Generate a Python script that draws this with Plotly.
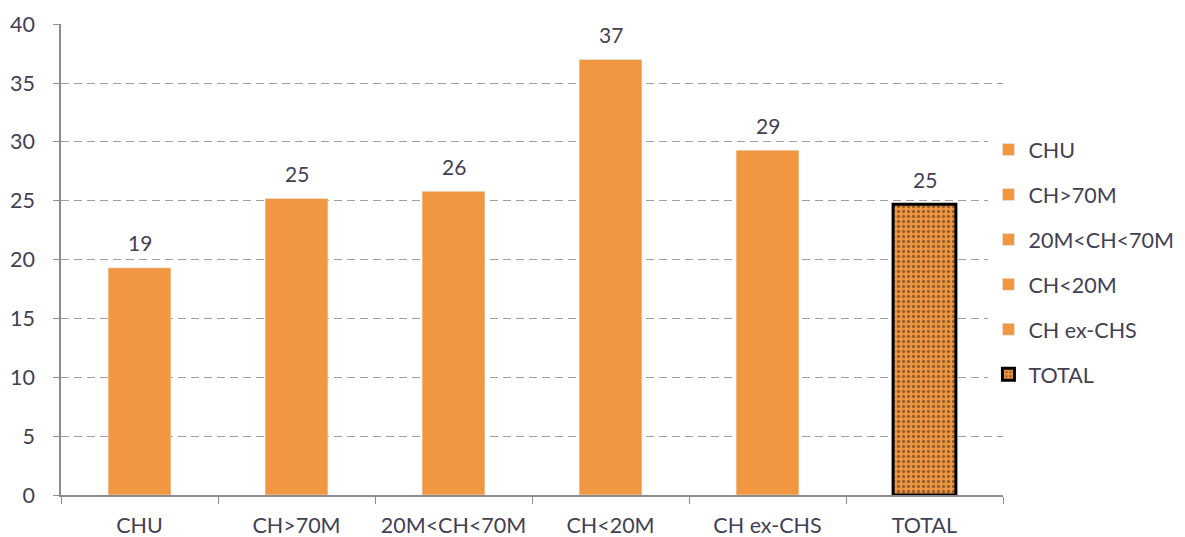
import plotly.graph_objects as go

categories = ["CHU", "CH>70M", "20M<CH<70M", "CH<20M", "CH ex-CHS", "TOTAL"]
values = [19.3, 25.2, 25.8, 37.0, 29.3, 24.7]
labels = ["19", "25", "26", "37", "29", "25"]

ORANGE = "#F19741"
TEXT = "#433F55"
FONT = "Lato"

fig = go.Figure()
for i, (c, v, l) in enumerate(zip(categories, values, labels)):
    is_total = c == "TOTAL"
    marker = dict(color=ORANGE)
    if is_total:
        marker = dict(
            color=ORANGE,
            line=dict(color="black", width=3),
            pattern=dict(shape=".", fgcolor="#3a2a1a", bgcolor=ORANGE, size=5, solidity=0.35, fillmode="overlay"),
        )
    fig.add_trace(go.Bar(
        x=[c], y=[v], name=c,
        marker=marker, width=0.4, legendgroup=c,
    ))
    fig.add_annotation(x=c, y=v, text=l, showarrow=False, yanchor="middle", yshift=25,
                       font=dict(size=21, color=TEXT, family=FONT))

fig.update_layout(
    width=1177, height=529,
    paper_bgcolor="white", plot_bgcolor="white",
    barmode="overlay",
    margin=dict(l=53, r=182, t=16, b=42, autoexpand=False),
    font=dict(family=FONT, color=TEXT, size=21.5),
    legend=dict(xref="container", x=0.833, y=0.777, yanchor="top", xanchor="left",
                font=dict(size=21.5, color=TEXT, family=FONT),
                tracegroupgap=14, itemwidth=30),
    showlegend=True,
)
fig.update_xaxes(
    automargin=False, tickangle=0,
    showline=True, linecolor="#8c8c8c", linewidth=1.5,
    ticks="outside", tickson="boundaries", ticklen=7, tickcolor="#8c8c8c",
    ticklabelstandoff=10,
    showgrid=False, tickfont=dict(size=21.5, color=TEXT, family=FONT),
)
fig.update_yaxes(
    automargin=False,
    range=[0, 40.02], tickvals=[0, 5, 10, 15, 20, 25, 30, 35, 40],
    showline=True, linecolor="#8c8c8c", linewidth=1.5,
    ticks="outside", ticklen=6, tickcolor="#8c8c8c",
    ticklabelstandoff=14,
    showgrid=True, gridcolor="#a0a0a0", griddash="8px,5px", gridwidth=1.2,
    zeroline=False, tickfont=dict(size=21.5, color=TEXT, family=FONT),
)

fig.write_html("out.html")
